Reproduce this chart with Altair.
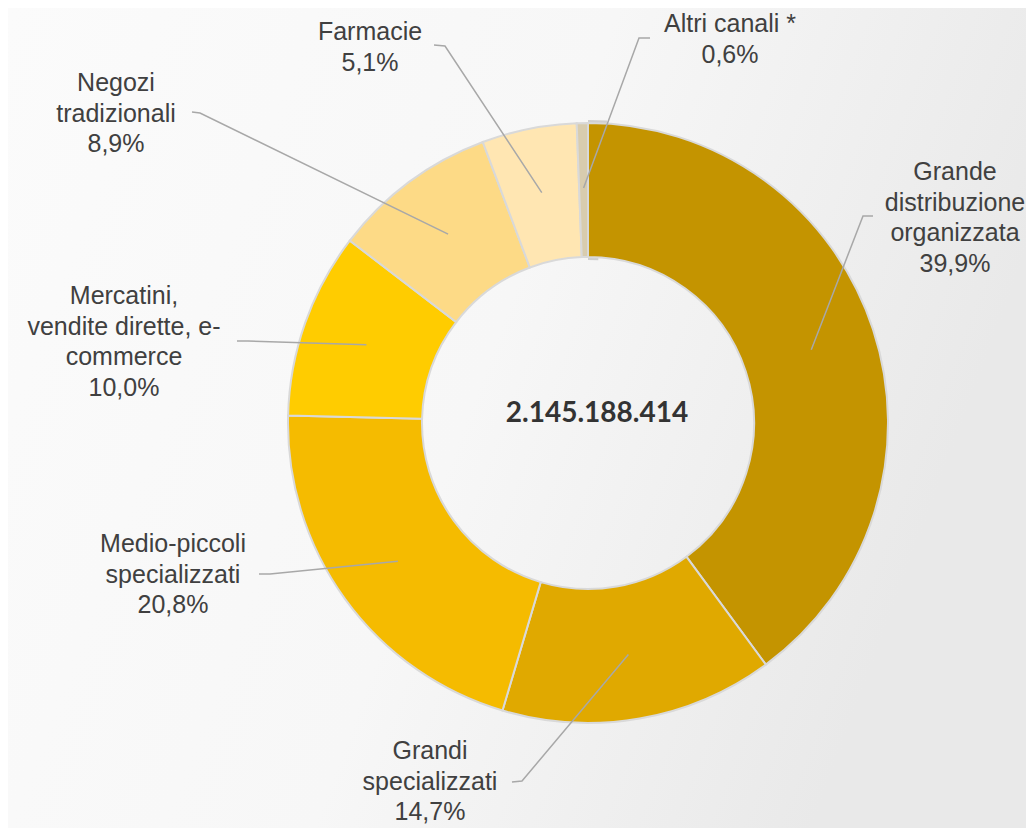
import math
import altair as alt
import pandas as pd

# ---- data ----
categories = [
    "Grande distribuzione organizzata",
    "Grandi specializzati",
    "Medio-piccoli specializzati",
    "Mercatini, vendite dirette, e-commerce",
    "Negozi tradizionali",
    "Farmacie",
    "Altri canali *",
]
shares = [39.9, 14.7, 20.8, 10.0, 8.9, 5.1, 0.6]
name_lines = [
    ["Grande", "distribuzione", "organizzata"],
    ["Grandi", "specializzati"],
    ["Medio-piccoli", "specializzati"],
    ["Mercatini,", "vendite dirette, e-", "commerce"],
    ["Negozi", "tradizionali"],
    ["Farmacie"],
    ["Altri canali *"],
]
pct_labels = ["39,9%", "14,7%", "20,8%", "10,0%", "8,9%", "5,1%", "0,6%"]
total_label = "2.145.188.414"

# ---- styles / layout ----
colors = ["#C49400", "#E0A900", "#F5BB00", "#FFCC00", "#FDDA86", "#FFE6B2", "#D8CCAE"]
W, H = 1018, 820
M = 8  # page margin
CX, CY = 588 - M, 423 - M
R_OUT, R_IN = 300, 166
R_LEAD = 235
# first-line centres of label blocks (page px)
label_xy = [(955, 172), (430, 751), (173, 544), (124, 296), (116, 83), (370, 32), (730, 24)]
# leader start and elbow (page px)
leader_pts = [
    [(873, 216), (863, 216)],
    [(512, 782), (522, 781)],
    [(259, 574), (270, 574)],
    [(237, 341), (248, 341)],
    [(192, 112), (200, 113)],
    [(434, 45), (445, 46)],
    [(650, 38), (639, 38)],
]

total = sum(shares)
arc_df = pd.DataFrame({"category": categories, "share": shares, "idx": list(range(len(categories)))})

lab_rows, line_rows = [], []
cum = 0.0
for i, (cat, s) in enumerate(zip(categories, shares)):
    mid = (cum + s / 2) / total * 2 * math.pi
    cum += s
    ex = CX + R_LEAD * math.sin(mid)
    ey = CY - R_LEAD * math.cos(mid)
    lx, ly = label_xy[i]
    lab_rows.append({"category": cat, "x": lx - M, "y": ly - M,
                     "text": "\n".join(name_lines[i] + [pct_labels[i]])})
    pts = [(px - M, py - M) for px, py in leader_pts[i]] + [(ex, ey)]
    for k, (px, py) in enumerate(pts):
        line_rows.append({"category": cat, "k": k, "x": px, "y": py})

lab_df = pd.DataFrame(lab_rows)
line_df = pd.DataFrame(line_rows)

xs = alt.Scale(domain=[0, W], nice=False, zero=False)
ys = alt.Scale(domain=[0, H], reverse=True, nice=False, zero=False)

bg = alt.Chart(pd.DataFrame({"a": [0]})).mark_rect(
    color=alt.LinearGradient(
        gradient="linear",
        stops=[alt.GradientStop(offset=0, color="#fbfbfb"),
               alt.GradientStop(offset=0.55, color="#f7f7f7"),
               alt.GradientStop(offset=1, color="#e9e9e9")],
        x1=0, x2=1, y1=0, y2=0.3,
    )
).encode(x=alt.value(0), x2=alt.value(W), y=alt.value(0), y2=alt.value(H))

ring_bg = alt.Chart(pd.DataFrame({"v": [1]})).mark_arc(
    outerRadius=R_OUT + 3, innerRadius=R_IN - 3, color="#cfcfcf"
).encode(theta=alt.Theta("v:Q"), x=alt.value(CX), y=alt.value(CY))

arcs = alt.Chart(arc_df).mark_arc(
    outerRadius=R_OUT, innerRadius=R_IN, stroke="#d9d9d9", strokeWidth=2
).encode(
    theta=alt.Theta("share:Q", stack=True),
    order=alt.Order("idx:Q"),
    color=alt.Color("category:N", scale=alt.Scale(domain=categories, range=colors), legend=None),
    x=alt.value(CX),
    y=alt.value(CY),
)

leaders = alt.Chart(line_df).mark_line(color="#a8a8a8", strokeWidth=1.5).encode(
    x=alt.X("x:Q", scale=xs, axis=None),
    y=alt.Y("y:Q", scale=ys, axis=None),
    detail="category:N",
    order="k:Q",
)

labels = alt.Chart(lab_df).mark_text(
    font="Liberation Sans", fontSize=25, color="#404040", align="center",
    baseline="middle", lineBreak="\n", lineHeight=30.5,
).encode(
    x=alt.X("x:Q", scale=xs, axis=None),
    y=alt.Y("y:Q", scale=ys, axis=None),
    text="text:N",
)

center = alt.Chart(pd.DataFrame({"t": [total_label]})).mark_text(
    font="Lato", fontWeight="bold", fontSize=28, color="#333333", align="center", baseline="middle"
).encode(x=alt.value(597 - M), y=alt.value(414 - M), text="t:N")

chart = alt.layer(bg, ring_bg, arcs, leaders, labels, center).properties(
    width=W, height=H, padding=0, autosize=alt.AutoSizeParams(type="none")
).configure_view(stroke=None).configure(background="#f6f6f6")

chart.save("out.html", embed_options={"renderer": "svg", "actions": False})
